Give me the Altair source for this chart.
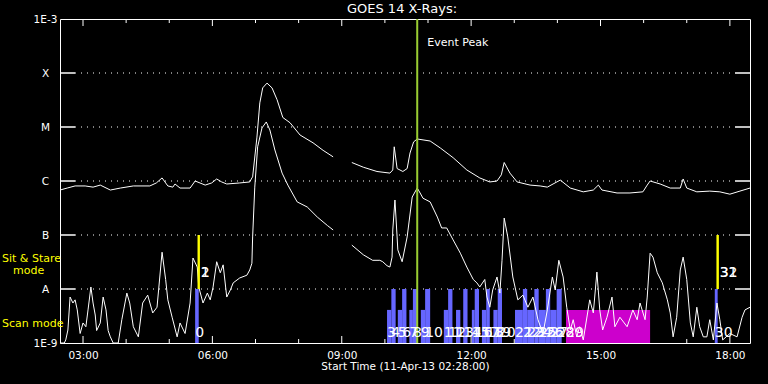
import math
import altair as alt
import pandas as pd

FONT = "DejaVu Sans"
W, H = 690, 324

# ---------------- data ----------------
# GOES long channel (1-8 A), two segments (data gap ~08:48-09:14)
LONG1_T = ["02:28", "02:38", "02:49", "03:03", "03:14", "03:24", "03:38", "03:52", "04:10", "04:33",
           "04:42", "04:50", "04:58", "05:05", "05:08", "05:15", "05:29", "05:36", "05:50", "05:59",
           "06:06", "06:13", "06:20", "06:38", "06:52", "06:55", "06:56", "07:02", "07:06", "07:10",
           "07:16", "07:23", "07:30", "07:38", "07:48", "08:02", "08:20", "08:34", "08:48"]
LONG1_F = [6.8e-7, 7.4e-7, 8.1e-7, 8.1e-7, 7.7e-7, 8.4e-7, 6.8e-7, 7.4e-7, 8.1e-7, 8.1e-7,
           9.2e-7, 1.14e-6, 8.1e-7, 7.7e-7, 8.8e-7, 7.4e-7, 7.4e-7, 1.0e-6, 8.4e-7, 9.2e-7,
           1.09e-6, 9.6e-7, 8.8e-7, 9.2e-7, 9.6e-7, 1.14e-6, 1.19e-6, 6.5e-6, 2.8e-5, 5.3e-5,
           6.5e-5, 5.3e-5, 3.2e-5, 1.5e-5, 1.2e-5, 7.1e-6, 5.1e-6, 3.7e-6, 2.8e-6]
LONG2_T = ["09:14", "09:30", "09:49", "10:07", "10:11", "10:13", "10:17", "10:25", "10:31", "10:35",
           "10:40", "10:45", "11:03", "11:17", "11:35", "11:54", "12:12", "12:26", "12:36", "12:42",
           "12:46", "12:54", "13:04", "13:22", "13:36", "13:46", "13:54", "14:04", "14:18", "14:36",
           "14:50", "14:57", "15:02", "15:23", "15:41", "15:59", "16:05", "16:09", "16:23", "16:37",
           "16:51", "16:55", "17:00", "17:14", "17:32", "17:46", "18:00", "18:14", "18:28"]
LONG2_F = [2.2e-6, 1.8e-6, 1.5e-6, 1.4e-6, 1.6e-6, 4.3e-6, 1.7e-6, 1.5e-6, 1.7e-6, 3.3e-6,
           5.3e-6, 6.0e-6, 5.5e-6, 4.1e-6, 2.7e-6, 1.6e-6, 1.14e-6, 9.6e-7, 1.0e-6, 1.3e-6,
           2.2e-6, 1.4e-6, 9.6e-7, 8.4e-7, 8.1e-7, 7.7e-7, 8.8e-7, 1.04e-6, 7.4e-7, 6.3e-7,
           6.8e-7, 8.4e-7, 6.8e-7, 6.0e-7, 6.0e-7, 6.3e-7, 8.4e-7, 1.0e-6, 8.8e-7, 7.4e-7,
           7.4e-7, 1.09e-6, 7.4e-7, 6.3e-7, 6.5e-7, 6.3e-7, 5.7e-7, 6.5e-7, 7.4e-7]

# GOES short channel (0.5-4 A)
SHORT1_T = ["02:28", "02:34", "02:36", "02:39", "02:42", "02:46", "02:49", "02:52", "02:56", "03:00",
            "03:04", "03:07", "03:11", "03:14", "03:17", "03:19", "03:24", "03:28", "03:32", "03:35",
            "03:38", "03:42", "03:49", "03:54", "04:01", "04:05", "04:10", "04:17", "04:23", "04:30",
            "04:37", "04:43", "04:50", "04:55", "04:58", "05:04", "05:11", "05:15", "05:22", "05:29",
            "05:33", "05:39", "05:41", "05:47", "05:53", "05:57", "06:01", "06:06", "06:11", "06:15",
            "06:20", "06:25", "06:29", "06:38", "06:48", "06:52", "06:55", "06:56", "06:59", "07:03",
            "07:09", "07:15", "07:20", "07:27", "07:37", "07:45", "07:58", "08:12", "08:26", "08:40",
            "08:48"]
SHORT1_F = [8e-10, 8e-10, 1.14e-9, 1.74e-9, 7.1e-9, 5.5e-9, 6.3e-9, 4.1e-9, 1.5e-9, 2.35e-9,
            2.0e-9, 4.1e-9, 1.09e-8, 5.5e-9, 3.3e-9, 1.7e-9, 2.35e-9, 7.1e-9, 4.1e-9, 1.7e-9,
            1.3e-9, 8e-10, 8e-10, 2.7e-9, 8.4e-9, 5.5e-9, 2.0e-9, 1.3e-9, 5.5e-9, 7.7e-9,
            3.6e-9, 4.6e-9, 4.8e-8, 1.5e-8, 6.3e-9, 3.0e-9, 1.3e-9, 2.35e-9, 1.5e-9, 5.5e-9,
            3.75e-8, 2.55e-8, 1.09e-8, 5.5e-9, 8.4e-9, 6.3e-9, 1.09e-8, 3.2e-8, 2.0e-8, 2.8e-8,
            7.1e-9, 9.6e-9, 1.3e-8, 1.6e-8, 1.8e-8, 2.25e-8, 3.0e-8, 9.2e-8, 7.7e-7, 4.3e-6,
            9.6e-6, 1.24e-5, 8.8e-6, 3.75e-6, 1.4e-6, 8.4e-7, 4.1e-7, 3.3e-7, 2.15e-7, 1.5e-7,
            1.24e-7]
SHORT2_T = ["09:14", "09:30", "09:43", "09:53", "09:57", "10:03", "10:07", "10:10", "10:11", "10:14",
            "10:17", "10:18", "10:24", "10:31", "10:38", "10:45", "10:49", "10:53", "11:03", "11:13",
            "11:19", "11:26", "11:35", "11:45", "11:54", "12:03", "12:08", "12:12", "12:19", "12:22",
            "12:26", "12:30", "12:36", "12:40", "12:43", "12:46", "12:51", "12:58", "13:05", "13:12",
            "13:19", "13:26", "13:33", "13:40", "13:46", "13:53", "13:57", "14:02", "14:08", "14:13",
            "14:18", "14:22", "14:27", "14:31", "14:36", "14:45", "14:50", "14:55", "14:59", "15:03",
            "15:09", "15:16", "15:20", "15:27", "15:37", "15:45", "15:51", "15:55", "16:02", "16:05",
            "16:09", "16:13", "16:19", "16:26", "16:33", "16:37", "16:41", "16:46", "16:51", "16:55",
            "17:00", "17:05", "17:09", "17:14", "17:18", "17:23", "17:28", "17:32", "17:37", "17:42",
            "17:46", "17:50", "18:00", "18:10", "18:17", "18:21", "18:28"]
SHORT2_F = [6.5e-8, 4.3e-8, 3.4e-8, 3.4e-8, 3.2e-8, 2.7e-8, 2.55e-8, 3.9e-8, 1.24e-7, 4.45e-7,
            9.2e-8, 5.3e-8, 3.2e-8, 9.2e-8, 5.05e-7, 7.4e-7, 6.0e-7, 4.8e-7, 4.1e-7, 2.15e-7,
            1.35e-7, 1.35e-7, 8.1e-8, 4.6e-8, 2.55e-8, 1.5e-8, 1.3e-8, 1.09e-8, 1.5e-8, 7.1e-9,
            4.6e-9, 9.6e-9, 1.67e-8, 8.4e-9, 3.4e-8, 2.06e-7, 9.2e-8, 1.67e-8, 6.3e-9, 7.7e-9,
            4.6e-9, 7.1e-9, 2.7e-9, 1.5e-9, 4.1e-9, 1.67e-8, 9.6e-9, 3.4e-8, 1.67e-8, 4.6e-9,
            1.74e-9, 2.7e-9, 1.3e-9, 2.0e-9, 1.14e-9, 6.3e-9, 3.6e-9, 2.06e-8, 4.1e-9, 1.74e-9,
            3.0e-9, 7.1e-9, 2.0e-9, 3.0e-9, 2.0e-9, 4.1e-9, 2.7e-9, 5.5e-9, 2.7e-9, 7.1e-9,
            4.6e-8, 3.9e-8, 2.0e-8, 1.3e-8, 6.3e-9, 3.6e-9, 1.3e-9, 3.0e-9, 2.25e-8, 3.9e-8,
            1.5e-8, 2.35e-9, 1.3e-9, 4.6e-9, 2.0e-9, 1.3e-9, 1.3e-9, 2.7e-9, 1.14e-9, 5.5e-9,
            2.7e-9, 1.14e-9, 1.5e-9, 1.3e-9, 3.0e-9, 4.1e-9, 4.6e-9]

# observation bars (scan mode)
SCAN_NO = [0] + list(range(3, 29)) + [29, 30]
SCAN_START = ["05:36",
              "10:03", "10:09", "10:18", "10:24", "10:34", "10:39", "10:50", "10:56",
              "11:22", "11:28", "11:39", "11:49", "12:01", "12:05", "12:15", "12:21",
              "12:31", "12:37", "13:01", "13:12", "13:18", "13:28", "13:34", "13:44",
              "13:50", "13:59",
              "14:12", "17:39"]
SCAN_END = ["05:41",
            "10:09", "10:15", "10:24", "10:30", "10:39", "10:45", "10:56", "11:03",
            "11:28", "11:34", "11:45", "11:55", "12:05", "12:11", "12:21", "12:26",
            "12:37", "12:43", "13:12", "13:18", "13:28", "13:34", "13:44", "13:50",
            "13:59", "14:06",
            "16:09", "17:43"]
SCAN_TOP = [1e-8] + [4.1e-9, 1e-8] * 13 + [4.1e-9, 1e-8]
SCAN_COLOR = ["#6666ff"] * 27 + ["#cc00cc", "#6666ff"]

# Sit & stare observations
SIT_NO = ["1", "2", "31", "32"]
SIT_TIME = ["05:41", "05:41", "17:43", "17:43"]
SIT_TOP, SIT_BOTTOM = 1e-7, 1e-8

EVENT_PEAK = "10:45"

Y_LEVELS = [1e-9, 1e-8, 1e-7, 1e-6, 1e-5, 1e-4, 1e-3]
Y_LABELS = ["1E-9", "A", "B", "C", "M", "X", "1E-3"]
GRID_LEVELS = [1e-8, 1e-7, 1e-6, 1e-5, 1e-4]
X_LABEL_HOURS = [3, 6, 9, 12, 15, 18]
X_MINOR_HOURS = [4, 5, 7, 8, 10, 11, 13, 14, 16, 17]


def hrs(s):
    h, m = s.split(":")
    return int(h) + int(m) / 60.0


T0, T1 = hrs("02:28"), hrs("18:28")

# ---------------- tables ----------------
rows = []
for key, ts, fs in [("long1", LONG1_T, LONG1_F), ("long2", LONG2_T, LONG2_F),
                    ("short1", SHORT1_T, SHORT1_F), ("short2", SHORT2_T, SHORT2_F)]:
    for t, f in zip(ts, fs):
        rows.append({"h": hrs(t), "f": f, "key": key})
lines_df = pd.DataFrame(rows)

bars_df = pd.DataFrame({
    "h": [hrs(t) for t in SCAN_START],
    "h2": [hrs(t) for t in SCAN_END],
    "f": SCAN_TOP,
    "f0": [1e-9] * len(SCAN_START),
    "c": SCAN_COLOR,
    "t": [str(n) for n in SCAN_NO],
})
sit_df = pd.DataFrame({"h": [hrs(t) for t in SIT_TIME], "t": SIT_NO,
                       "f": [SIT_TOP] * 4, "f0": [SIT_BOTTOM] * 4})
grid_df = pd.DataFrame({"f": GRID_LEVELS})
major_df = pd.DataFrame({"h": X_LABEL_HOURS})
minor_df = pd.DataFrame({"h": X_MINOR_HOURS})
peak_df = pd.DataFrame({"h": [hrs(EVENT_PEAK)]})
one = pd.DataFrame({"a": [0]})

# ---------------- scales / axes ----------------
y_expr = "round(log(datum.value)/LN10)"
lab = "'1E-9'"
for lv, lb in zip(Y_LEVELS[1:], Y_LABELS[1:]):
    e = int(round(math.log10(lv)))
    lab = f"({y_expr}=={e}) ? '{lb}' : " + lab
y_label_expr = lab

x_scale = alt.Scale(domain=[T0, T1], nice=False, zero=False)
y_scale = alt.Scale(type="log", domain=[1e-9, 1e-3], nice=False, clamp=True)
x_axis = alt.Axis(values=X_LABEL_HOURS,
                  labelExpr="(datum.value < 10 ? '0' : '') + datum.value + ':00'",
                  ticks=False, tickSize=0, domain=False, grid=False, labelFlush=False,
                  labelOverlap=False, labelPadding=7, labelFontSize=10.5,
                  title="Start Time (11-Apr-13 02:28:00)", titlePadding=1,
                  titleFontSize=10.5, titleFontWeight="normal")
y_axis = alt.Axis(values=Y_LEVELS, labelExpr=y_label_expr, ticks=False, tickSize=0,
                  domain=False, grid=False, labelOverlap=False, labelAlign="center",
                  labelPadding=15, labelFontSize=10.5, title=None)


def X(field="h"):
    return alt.X(f"{field}:Q", scale=x_scale, axis=x_axis)


def Y(field="f"):
    return alt.Y(f"{field}:Q", scale=y_scale, axis=y_axis)


WHITE = "white"

grid = alt.Chart(grid_df).mark_rule(color=WHITE, strokeWidth=1, strokeDash=[1, 5]).encode(
    y=Y(), x=alt.value(15), x2=alt.value(W - 15))
stub_l = alt.Chart(grid_df).mark_rule(color=WHITE, strokeWidth=1.5).encode(
    y=Y(), x=alt.value(0), x2=alt.value(15))
stub_r = alt.Chart(grid_df).mark_rule(color=WHITE, strokeWidth=1.5).encode(
    y=Y(), x=alt.value(W - 15), x2=alt.value(W))

tick_top_major = alt.Chart(major_df).mark_rule(color=WHITE).encode(
    x=X(), y=alt.value(0), y2=alt.value(7))
tick_top_minor = alt.Chart(minor_df).mark_rule(color=WHITE).encode(
    x=X(), y=alt.value(0), y2=alt.value(4))
tick_bot_major = alt.Chart(major_df).mark_rule(color=WHITE).encode(
    x=X(), y=alt.value(H - 7), y2=alt.value(H))
tick_bot_minor = alt.Chart(minor_df).mark_rule(color=WHITE).encode(
    x=X(), y=alt.value(H - 4), y2=alt.value(H))

bars = alt.Chart(bars_df).mark_rect().encode(
    x=X("h"), x2="h2", y=Y("f"), y2="f0", color=alt.Color("c:N", scale=None))

curves = alt.Chart(lines_df).mark_line(color=WHITE, strokeWidth=1).encode(
    x=X(), y=Y(), detail="key:N")

peak = alt.Chart(peak_df).mark_rule(color="#9acd32", strokeWidth=2).encode(
    x=X(), y=alt.value(0), y2=alt.value(H))
peak_txt = alt.Chart(peak_df).mark_text(align="left", baseline="middle", dx=10, fontSize=11,
                                        color=WHITE, font=FONT).encode(
    x=X(), y=alt.value(24), text=alt.value("Event Peak"))

sit = alt.Chart(sit_df).mark_rule(color="#ffff00", strokeWidth=2).encode(
    x=X(), y=Y("f"), y2="f0")
sit_txt = alt.Chart(sit_df).mark_text(align="left", baseline="middle", dx=2, fontSize=14,
                                      color=WHITE, font=FONT).encode(
    x=X(), y=alt.value(254), text="t:N")
scan_txt = alt.Chart(bars_df).mark_text(align="left", baseline="middle", dx=0, fontSize=14,
                                        color=WHITE, font=FONT).encode(
    x=X(), y=alt.value(314), text="t:N")


def label(txt, x, y, color=WHITE, size=11, align="left"):
    return alt.Chart(one).mark_text(align=align, baseline="middle", fontSize=size,
                                    color=color, font=FONT).encode(
        x=alt.value(x), y=alt.value(y), text=alt.value(txt))


title = label("GOES 14 X-Rays:", W / 2 - 3, -10, size=13, align="center")
m1 = label("Sit & Stare", -58, 240, color="#ffff00")
m2 = label("mode", -47, 252, color="#ffff00")
m3 = label("Scan mode", -58, 305, color="#ffff00")

chart = alt.layer(
    grid, stub_l, stub_r, tick_top_major, tick_top_minor, tick_bot_major, tick_bot_minor,
    bars, curves, peak, sit, scan_txt, sit_txt, peak_txt, title, m1, m2, m3
).properties(
    width=W, height=H,
    padding={"left": 60, "top": 19, "right": 18, "bottom": 40},
    autosize=alt.AutoSizeParams(type="none"),
).configure(
    background="black"
).configure_view(
    stroke=WHITE, strokeWidth=1
).configure_axis(
    labelColor=WHITE, titleColor=WHITE, labelFont=FONT, titleFont=FONT
)

TEMPLATE_SRC = """<!DOCTYPE html>
<html>
<head>
  <style>
    html, body { background: #000; margin: 0; padding: 0; overflow: hidden; }
    #{{ output_div }}.vega-embed { width: 100%; display: flex; }
    #{{ output_div }}.vega-embed details,
    #{{ output_div }}.vega-embed details summary { position: relative; }
  </style>
  <script type="text/javascript" src="{{ base_url }}/vega@{{ vega_version }}"></script>
  <script type="text/javascript" src="{{ base_url }}/vega-lite@{{ vegalite_version }}"></script>
  <script type="text/javascript" src="{{ base_url }}/vega-embed@{{ vegaembed_version }}"></script>
</head>
<body>
  <div id="{{ output_div }}"></div>
  <script>
    (function(vegaEmbed) {
      var spec = {{ spec }};
      var embedOpt = {{ embed_options }};
      function showError(el, error){
          el.innerHTML = ('<div style="color:red;"><p>JavaScript Error: ' + error.message + '</p></div>');
          throw error;
      }
      const el = document.getElementById('{{ output_div }}');
      vegaEmbed("#{{ output_div }}", spec, embedOpt).catch(error => showError(el, error));
    })(vegaEmbed);
  </script>
</body>
</html>
"""

try:
    import jinja2
    tmpl = jinja2.Template(TEMPLATE_SRC)
    chart.save("out.html", embed_options={"renderer": "svg", "actions": False}, template=tmpl)
except Exception:
    chart.save("out.html", embed_options={"renderer": "svg", "actions": False})
